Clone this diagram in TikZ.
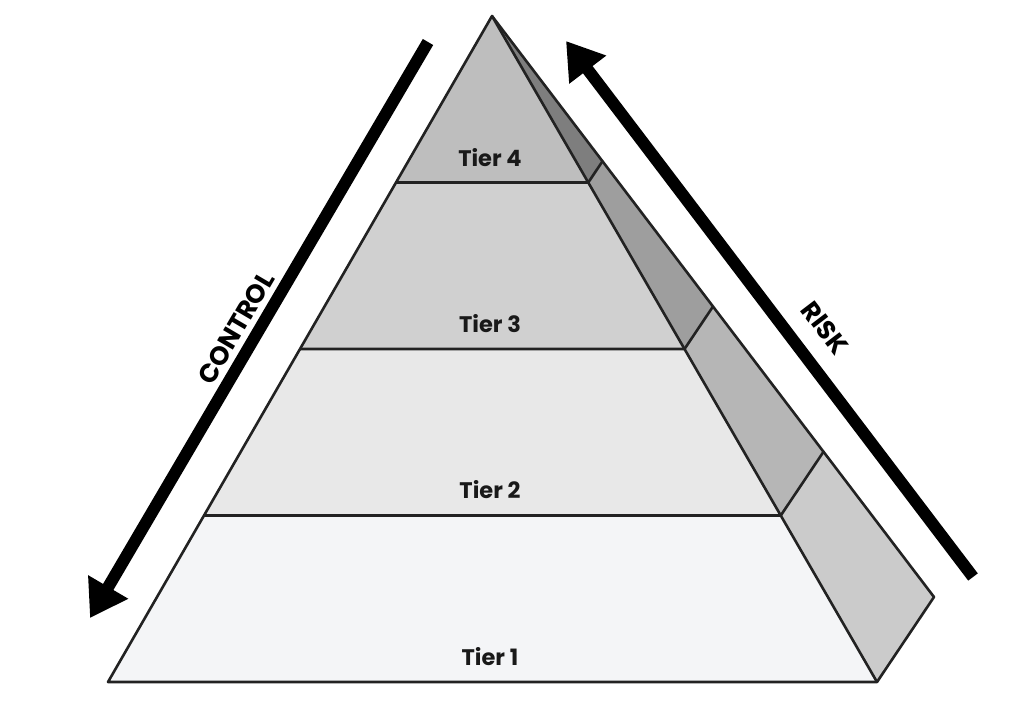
\documentclass[tikz,border=0pt]{standalone}
\usepackage{fontspec}
\setmainfont{Poppins}
\usetikzlibrary{arrows.meta,calc}
\definecolor{tone}{HTML}{F4F5F7}
\definecolor{ttwo}{HTML}{E8E8E8}
\definecolor{tthree}{HTML}{D0D0D0}
\definecolor{tfour}{HTML}{BEBEBE}
\definecolor{sone}{HTML}{CBCBCB}
\definecolor{stwo}{HTML}{B6B6B6}
\definecolor{sthree}{HTML}{9E9E9E}
\definecolor{sfour}{HTML}{7E7E7E}
\definecolor{edgecol}{HTML}{222222}
\begin{document}
\begin{tikzpicture}[x=1pt,y=-1pt,
  edge/.style={draw=edgecol, line width=2.6pt, line join=round},
  bigarrow/.style={line width=12pt, -{Triangle[length=36pt,width=44pt]}},
  tierlabel/.style={font=\bfseries\fontsize{22.5}{22.5}\selectfont, text=black!90},
  sidelabel/.style={font=\bfseries\fontsize{26}{26}\selectfont, text=black}]
\useasboundingbox (0,0) rectangle (1024,704);
\coordinate (A) at (492,16);
\coordinate (L) at (108,682);
\coordinate (R) at (877,682);
\coordinate (B) at (934,597);
\foreach \t/\n in {0.25/a,0.5/b,0.75/c}{
  \coordinate (L\n) at ($(A)!\t!(L)$);
  \coordinate (R\n) at ($(A)!\t!(R)$);
  \coordinate (B\n) at ($(A)!\t!(B)$);
}
% front tiers
\fill[tfour] (A) -- (La) -- (Ra) -- cycle;
\fill[tthree] (La) -- (Lb) -- (Rb) -- (Ra) -- cycle;
\fill[ttwo] (Lb) -- (Lc) -- (Rc) -- (Rb) -- cycle;
\fill[tone] (Lc) -- (L) -- (R) -- (Rc) -- cycle;
% side
\fill[sfour] (A) -- (Ra) -- (Ba) -- cycle;
\fill[sthree] (Ra) -- (Rb) -- (Bb) -- (Ba) -- cycle;
\fill[stwo] (Rb) -- (Rc) -- (Bc) -- (Bb) -- cycle;
\fill[sone] (Rc) -- (R) -- (B) -- (Bc) -- cycle;
% outlines
\draw[edge] (A) -- (L) -- (R) -- (B) -- cycle;
\draw[edge] (A) -- (R);
\draw[edge] (La) -- (Ra) -- (Ba);
\draw[edge] (Lb) -- (Rb) -- (Bb);
\draw[edge] (Lc) -- (Rc) -- (Bc);
% labels
\node[tierlabel] (t4) at (490,158) {Tier 4};
\node[tierlabel] (t3) at (490,324) {Tier 3};
\node[tierlabel] (t2) at (490,490) {Tier 2};
\node[tierlabel] (t1) at (490,657) {Tier 1};
% arrows
\coordinate (ctop) at (428,42);
\coordinate (cbot) at (90,618);
\coordinate (rbot) at (973,577);
\coordinate (rtop) at (566,41);
\draw[bigarrow] (ctop) -- (cbot);
\draw[bigarrow] (rbot) -- (rtop);
\node[sidelabel, rotate=59.6] (control) at (236,328) {CONTROL};
\node[sidelabel, rotate=-52.6] (risk) at (825,328) {RISK};
\end{tikzpicture}
\end{document}
